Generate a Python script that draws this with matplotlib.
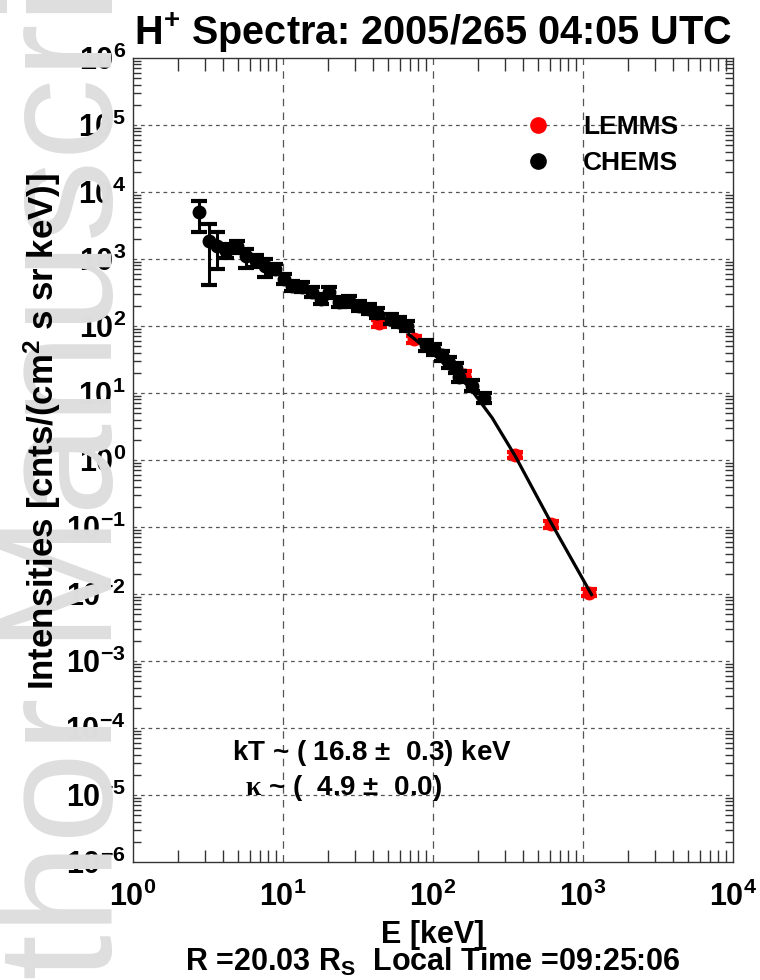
import numpy as np
import matplotlib
matplotlib.use("Agg")
import matplotlib.pyplot as plt
from matplotlib.lines import Line2D
from matplotlib.ticker import LogLocator, FixedLocator, FuncFormatter, NullFormatter

# ---------------- data ----------------
# CHEMS H+ intensities (energy keV, intensity, upper / lower error bounds)
chems_e = [2.76, 3.22, 3.65, 4.19, 4.96, 5.70, 6.65, 7.64, 8.91, 10.2, 11.4, 13.3,
           15.5, 17.8, 20.2, 23.5, 27.4, 32.0, 37.3, 42.2, 52.4, 59.3, 67.0, 89.8,
           101.6, 115, 128, 143, 149, 182, 219]
chems_i = [5050, 1855, 1560, 1313, 1560, 1105, 931, 783, 706, 500, 393, 379,
           319, 250, 319, 226, 234, 197, 177, 155, 126, 113, 98.6, 51.2,
           44.6, 36.3, 28.5, 23.9, 17.6, 12.9, 8.5]
chems_hi = [7380, 3340, 2530, 1650, 1855, 1406, 1150, 1000, 850, 600, 470, 450,
            380, 300, 380, 270, 280, 235, 210, 185, 150, 135, 118, 61,
            53, 43, 34, 28.5, 21, 15.4, 10.1]
chems_lo = [2530, 406, 706, 1050, 1250, 731, 760, 535, 590, 420, 330, 320,
            270, 210, 265, 190, 195, 165, 150, 130, 106, 95, 83, 43,
            37.5, 30.5, 24, 20, 14.8, 10.8, 7.1]

# LEMMS H+ intensities
lemms_e = [43.6, 74.6, 161, 354, 616, 1100]
lemms_i = [110, 63, 18.8, 1.19, 0.11, 0.0105]
lemms_hi = [125, 72, 21.5, 1.33, 0.123, 0.0118]
lemms_lo = [97, 55, 16.5, 1.06, 0.098, 0.0093]

# kappa fit curve
fit_e = [69, 105, 174, 248, 353, 615, 1140]
fit_i = [75, 35, 12.4, 4.26, 1.15, 0.114, 0.0098]

x_ticks = [1e0, 1e1, 1e2, 1e3, 1e4]
y_ticks = [10.0 ** k for k in range(-6, 7)]

# ---------------- style ----------------
plt.rcParams["font.family"] = ["Liberation Sans", "DejaVu Sans"]
plt.rcParams["font.weight"] = "bold"
plt.rcParams["mathtext.fontset"] = "custom"
plt.rcParams["mathtext.rm"] = "Liberation Sans:bold"
plt.rcParams["mathtext.it"] = "Liberation Sans:bold"
plt.rcParams["mathtext.bf"] = "Liberation Sans:bold"
plt.rcParams["mathtext.sf"] = "Liberation Sans"
plt.rcParams["mathtext.tt"] = "Liberation Serif"
plt.rcParams["mathtext.default"] = "rm"

W, H = 760, 980
fig = plt.figure(figsize=(W / 100, H / 100), dpi=100)
fig.patch.set_facecolor("white")

# faint background lettering on the left edge
fig.text(112 / W, 1 - 1180 / H, "Author Manuscript", rotation=90,
         rotation_mode="anchor", ha="left", va="baseline",
         fontsize=118, fontweight="normal", color="#dedede", zorder=0)

L, R, T, B = 133, 733, 58, 862
ax = fig.add_axes([L / W, 1 - B / H, (R - L) / W, (B - T) / H])
ax.patch.set_alpha(0.0)
ax.set_xscale("log")
ax.set_yscale("log")
ax.set_xlim(1, 1e4)
ax.set_ylim(1e-6, 1e6)

# grid
for xv in x_ticks[1:-1]:
    ax.axvline(xv, color="#555555", lw=0.9, ls=(0, (6, 5)), zorder=1)
for yv in y_ticks[1:-1]:
    ax.axhline(yv, color="#555555", lw=0.9, ls=(0, (3, 3)), zorder=1)

ax.xaxis.set_major_locator(FixedLocator(x_ticks))
ax.yaxis.set_major_locator(FixedLocator(y_ticks))
ax.xaxis.set_minor_locator(LogLocator(base=10, subs=np.arange(2, 10), numticks=100))
ax.yaxis.set_minor_locator(LogLocator(base=10, subs=np.arange(2, 10), numticks=100))
ax.xaxis.set_minor_formatter(NullFormatter())
ax.yaxis.set_minor_formatter(NullFormatter())
fmt = FuncFormatter(lambda v, p: r"10$^{%d}$" % int(round(np.log10(v))))
ax.xaxis.set_major_formatter(fmt)
ax.yaxis.set_major_formatter(fmt)

ax.tick_params(which="both", direction="in", top=True, right=True, width=1.0, color="#333333")
ax.tick_params(which="major", length=0)
ax.tick_params(axis="x", which="minor", length=9)
ax.tick_params(axis="y", which="minor", length=6)
ax.tick_params(axis="x", which="major", labelsize=22, pad=14)
ax.tick_params(axis="y", which="major", labelsize=22, pad=5)
for lab in ax.get_xticklabels() + ax.get_yticklabels():
    lab.set_fontweight("bold")
for s in ax.spines.values():
    s.set_linewidth(1.0)
    s.set_color("#333333")

# data
le = np.array(lemms_e); li = np.array(lemms_i)
ax.errorbar(le, li, yerr=[li - np.array(lemms_lo), np.array(lemms_hi) - li],
            fmt="o", color="red", ms=9, elinewidth=2.2, capsize=6, capthick=3, zorder=3)
ce = np.array(chems_e); ci = np.array(chems_i)
ax.errorbar(ce, ci, yerr=[ci - np.array(chems_lo), np.array(chems_hi) - ci],
            fmt="o", color="black", ms=9, elinewidth=2.2, capsize=6, capthick=3, zorder=4)
ax.plot(fit_e, fit_i, color="black", lw=2.3, zorder=5)

# legend
handles = [Line2D([], [], ls="none", marker="o", color="red", ms=11, label="LEMMS"),
           Line2D([], [], ls="none", marker="o", color="black", ms=11, label="CHEMS")]
ax.legend(handles=handles, loc="center left", bbox_to_anchor=(525 / W, 1 - 145 / H),
          bbox_transform=fig.transFigure, frameon=False,
          handlelength=1.0, handletextpad=1.2, labelspacing=0.45,
          borderpad=0, borderaxespad=0, prop={"weight": "bold", "size": 19})

# fit parameters
fig.text(232 / W, 1 - 753 / H, r"kT ~ ( 16.8 $\mathsf{\pm}$  0.3) keV", ha="left", va="center",
         fontsize=20, fontweight="bold")
fig.text(245 / W, 1 - 788 / H, r"$\mathtt{\kappa}$ ~ (  4.9 $\mathsf{\pm}$  0.0)", ha="left", va="center",
         fontsize=20, fontweight="bold")

# titles and labels
cx = (L + R) / 2 / W
fig.text(cx, 1 - 33 / H, r"H$^{+}$ Spectra: 2005/265 04:05 UTC", ha="center", va="center",
         fontsize=28.5, fontweight="bold")
fig.text(42 / W, 1 - 432 / H, r"Intensities [cnts/(cm$^{2}$ s sr keV)]", rotation=90,
         ha="center", va="center", fontsize=25, fontweight="bold")
fig.text(cx, 1 - 935 / H, "E [keV]", ha="center", va="center", fontsize=22, fontweight="bold")
fig.text(cx, 1 - 962 / H, r"R =20.03 R$_{S}$  Local Time =09:25:06", ha="center", va="center",
         fontsize=22, fontweight="bold")

fig.savefig("out.png", dpi=100)
